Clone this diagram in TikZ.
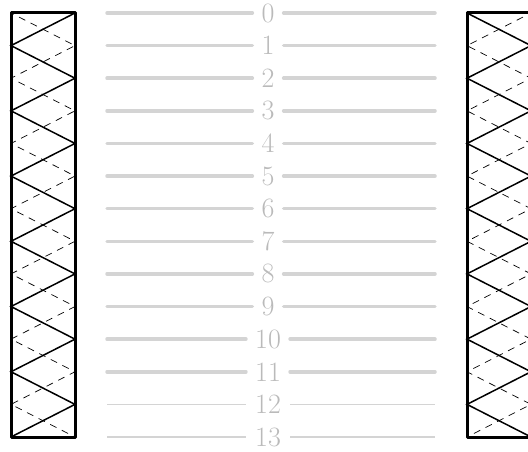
\documentclass[tikz,border=0pt]{standalone}
\begin{document}
\begin{tikzpicture}[x=1pt,y=-1pt,
  barframe/.style={line width=3pt, line join=round},
  zigsolid/.style={line width=1.5pt},
  zigdash/.style={line width=0.7pt, dash pattern=on 7pt off 6pt, dash phase=4pt},
  num/.style={text=black!27, font=\fontsize{28}{30}\selectfont, inner xsep=9pt, inner ysep=0pt},
  thickrule/.style={draw=black!17, line width=3.5pt, line cap=round},
  thinrule/.style={draw=black!17, line width=1.7pt}]
\useasboundingbox (0,0) rectangle (528,452);
\def\ystep{32.615}
% left bar
\draw[zigsolid] (75,13) \foreach \i in {1,...,13}{ -- ({ifthenelse(mod(\i,2)==0,75,11)},{13+\i*\ystep}) };
\draw[zigdash] (11,13) \foreach \i in {1,...,13}{ -- ({ifthenelse(mod(\i,2)==0,11,75)},{13+\i*\ystep}) };
\draw[barframe] (11,13) rectangle (75,437);
% right bar
\draw[zigsolid] (467,13) \foreach \i in {1,...,13}{ -- ({ifthenelse(mod(\i,2)==0,467,531)},{13+\i*\ystep}) };
\draw[zigdash] (531,13) \foreach \i in {1,...,13}{ -- ({ifthenelse(mod(\i,2)==0,531,467)},{13+\i*\ystep}) };
\draw[barframe] (467,13) rectangle (531,437);
% number rules
\foreach \i in {0,...,13}{
  \node[num] (n\i) at (268,{13+\i*\ystep}) {\i};
  \coordinate (l\i) at (107,{13+\i*\ystep});
  \coordinate (r\i) at (435,{13+\i*\ystep});
}
\foreach \i in {0,...,11}{
  \draw[thickrule] (l\i) -- (n\i.west);
  \draw[thickrule] (n\i.east) -- (r\i);
}
\foreach \i in {12,13}{
  \draw[thinrule] (l\i) -- (n\i.west);
  \draw[thinrule] (n\i.east) -- (r\i);
}
\end{tikzpicture}
\end{document}
